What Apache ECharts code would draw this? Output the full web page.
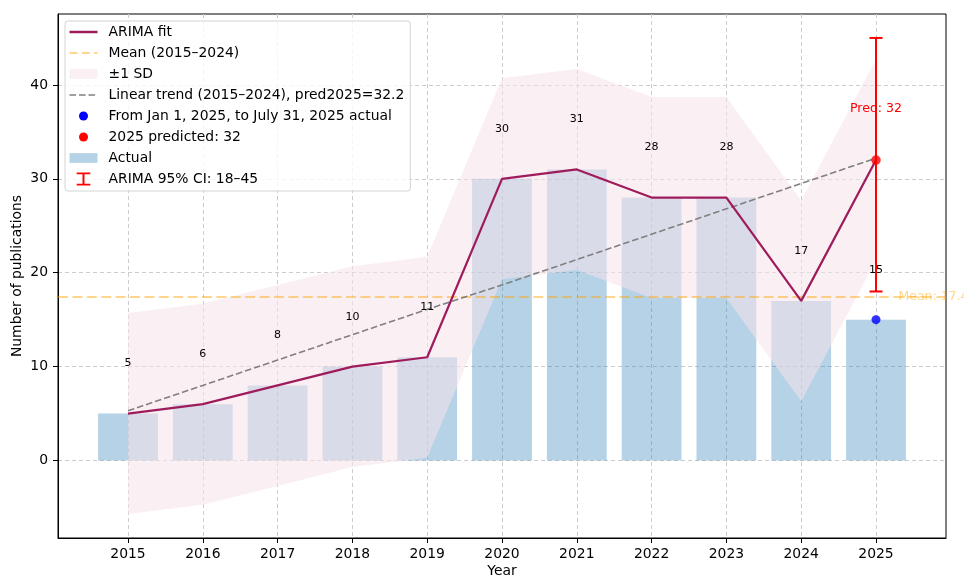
<!DOCTYPE html>
<html>
<head>
<meta charset="utf-8">
<title>Publications per year with ARIMA fit</title>
<script src="https://cdn.jsdelivr.net/npm/echarts@6/dist/echarts.min.js"></script>
<style>
  html, body { margin: 0; padding: 0; background: #ffffff; }
  #chart { width: 964px; height: 577px; }
</style>
</head>
<body>
<div id="chart"></div>
<script>
// ---- data -------------------------------------------------------------
const years = [2015, 2016, 2017, 2018, 2019, 2020, 2021, 2022, 2023, 2024, 2025];
const actual = [5, 6, 8, 10, 11, 30, 31, 28, 28, 17, 15];          // 2025 = Jan 1 – Jul 31
const arimaFit = [5, 6, 8, 10, 11, 30, 31, 28, 28, 17, 32];
const sdUpper = [15.7, 16.7, 18.7, 20.7, 21.7, 40.7, 41.7, 38.7, 38.7, 27.7, 42.7];
const sdLower = [-5.7, -4.7, -2.7, -0.7, 0.3, 19.3, 20.3, 17.3, 17.3, 6.3, 21.3];
const trend = [5.3, 8.0, 10.7, 13.4, 16.1, 18.7, 21.4, 24.1, 26.8, 29.5, 32.2];
const meanValue = 17.4;
const partial2025 = [2025, 15];
const predicted2025 = [2025, 32];
const ci2025 = [2025, 18, 45];
const yTicks = [0, 10, 20, 30, 40];

// ---- styling ----------------------------------------------------------
const FONT = 'DejaVu Sans';
const C_BAR = 'rgba(31,119,180,0.33)';
const C_BAND = 'rgba(246,226,233,0.56)';
const C_MEAN = 'rgba(255,165,0,0.45)';
const C_TREND = '#808080';
const C_FIT = '#9e1b5c';
const C_RED = '#ff0000';
const C_BLUE = '#0000ff';
const labelLift = 5;   // value labels sit this many units above each value
const textNudge = 2.5; // px, aligns text baselines with the marks below

const NAMES = {
  fit: 'ARIMA fit',
  mean: 'Mean (2015–2024)',
  sd: '±1 SD',
  trend: 'Linear trend (2015–2024), pred2025=32.2',
  partial: 'From Jan 1, 2025, to July 31, 2025 actual',
  pred: '2025 predicted: 32',
  actual: 'Actual',
  ci: 'ARIMA 95% CI: 18–45'
};

// legend handles: every path spans a 34x14 box so the text lands in the same column
const BOX = 'M0 0 M34 14 ';
const ICON = {
  solid: 'path://' + BOX + 'M0 5.75 L28 5.75 L28 8.25 L0 8.25 Z',
  meanDash: 'path://' + BOX + 'M0 6 L8 6 L8 8 L0 8 Z M12.3 6 L20.3 6 L20.3 8 L12.3 8 Z M24.6 6 L28 6 L28 8 L24.6 8 Z',
  trendDash: 'path://' + BOX + 'M0 6.25 L6.6 6.25 L6.6 7.75 L0 7.75 Z M9.5 6.25 L16.1 6.25 L16.1 7.75 L9.5 7.75 Z M19 6.25 L25.6 6.25 L25.6 7.75 L19 7.75 Z',
  rect: 'path://' + BOX + 'M0 2.15 L28 2.15 L28 11.85 L0 11.85 Z',
  dot: 'path://' + BOX + 'M9.5 7 A4.5 4.5 0 1 1 18.5 7 A4.5 4.5 0 1 1 9.5 7 Z',
  errbar: 'path://' + BOX + 'M13 0.5 L15 0.5 L15 13.5 L13 13.5 Z M7.2 0.5 L20.8 0.5 L20.8 2.3 L7.2 2.3 Z M7.2 11.7 L20.8 11.7 L20.8 13.5 L7.2 13.5 Z'
};
function legendItem(name, icon, color) {
  return { name: name, icon: icon, itemStyle: { color: color, borderWidth: 0, opacity: 1 } };
}

const pairs = (vals) => years.map((y, i) => [y, vals[i]]);

const chart = echarts.init(document.getElementById('chart'), null, { renderer: 'canvas' });

const option = {
  animation: false,
  backgroundColor: '#ffffff',
  textStyle: { fontFamily: FONT },
  grid: {
    left: 58, right: 18, top: 14, bottom: 39,
    show: true, borderColor: '#000000', borderWidth: 1,
    containLabel: false, outerBoundsMode: 'none'
  },
  legend: {
    orient: 'vertical',
    left: 65, top: 21,
    padding: [4, 6, 5, 4.5],
    itemWidth: 34, itemHeight: 14, itemGap: 7,
    backgroundColor: 'rgba(255,255,255,0.8)',
    borderColor: '#d4d4d4', borderWidth: 1, borderRadius: 3,
    selectedMode: false,
    textStyle: { fontFamily: FONT, fontSize: 13.9, lineHeight: 14, color: '#000000' },
    data: [
      legendItem(NAMES.fit, ICON.solid, C_FIT),
      legendItem(NAMES.mean, ICON.meanDash, C_MEAN),
      legendItem(NAMES.sd, ICON.rect, C_BAND),
      legendItem(NAMES.trend, ICON.trendDash, C_TREND),
      legendItem(NAMES.partial, ICON.dot, C_BLUE),
      legendItem(NAMES.pred, ICON.dot, C_RED),
      legendItem(NAMES.actual, ICON.rect, C_BAR),
      legendItem(NAMES.ci, ICON.errbar, C_RED)
    ]
  },
  xAxis: {
    type: 'value',
    min: 2014.064, max: 2025.936,
    name: 'Year', nameLocation: 'middle', nameGap: 26, nameMoveOverlap: false,
    nameTextStyle: { fontFamily: FONT, fontSize: 13.9, color: '#000000' },
    axisLine: { show: true, onZero: false, lineStyle: { color: '#000000', width: 1 } },
    axisTick: { show: true, customValues: years, length: 5, lineStyle: { color: '#000000', width: 1 } },
    axisLabel: { customValues: years, formatter: (v) => String(v), margin: 9,
                 fontFamily: FONT, fontSize: 13.9, color: '#000000' },
    splitLine: { show: true, lineStyle: { color: '#cccccc', width: 1, type: [4, 3] } }
  },
  yAxis: {
    type: 'value',
    min: -8.25, max: 47.55,
    name: 'Number of publications', nameLocation: 'middle', nameGap: 34, nameMoveOverlap: false,
    nameTextStyle: { fontFamily: FONT, fontSize: 13.9, color: '#000000' },
    axisLine: { show: true, onZero: false, lineStyle: { color: '#000000', width: 1 } },
    axisTick: { show: true, customValues: yTicks, length: 5, lineStyle: { color: '#000000', width: 1 } },
    axisLabel: { customValues: yTicks, formatter: (v) => String(v), margin: 10,
                 fontFamily: FONT, fontSize: 13.9, color: '#000000' },
    splitLine: { show: true, lineStyle: { color: '#cccccc', width: 1, type: [4, 3] } }
  },
  series: [
    {
      name: NAMES.actual,
      type: 'bar',
      data: pairs(actual),
      barWidth: 59.8,
      itemStyle: { color: C_BAR },
      z: 2
    },
    {
      name: NAMES.sd,
      type: 'custom',
      data: [[years[0], sdUpper[0]]],
      itemStyle: { color: C_BAND },
      renderItem: function (params, api) {
        const upper = years.map((y, i) => api.coord([y, sdUpper[i]]));
        const lower = years.map((y, i) => api.coord([y, sdLower[i]])).reverse();
        return { type: 'polygon', shape: { points: upper.concat(lower) }, style: { fill: C_BAND } };
      },
      z: 3
    },
    {
      name: NAMES.mean,
      type: 'line',
      data: [],
      itemStyle: { color: C_MEAN },
      markLine: {
        silent: true,
        symbol: 'none',
        label: { show: false },
        lineStyle: { color: C_MEAN, width: 2, type: [10, 4.4] },
        data: [{ yAxis: meanValue }]
      },
      z: 4
    },
    {
      name: NAMES.trend,
      type: 'line',
      data: pairs(trend),
      showSymbol: false,
      symbol: 'none',
      itemStyle: { color: C_TREND },
      lineStyle: { color: C_TREND, width: 1.6, type: [6.6, 2.9] },
      z: 5
    },
    {
      name: NAMES.fit,
      type: 'line',
      data: pairs(arimaFit),
      showSymbol: false,
      symbol: 'none',
      itemStyle: { color: C_FIT },
      lineStyle: { color: C_FIT, width: 2.2 },
      z: 6
    },
    {
      name: NAMES.ci,
      type: 'custom',
      data: [ci2025],
      encode: { x: 0, y: [1, 2] },
      itemStyle: { color: C_RED },
      renderItem: function (params, api) {
        const x = api.value(0);
        const lo = api.coord([x, api.value(1)]);
        const hi = api.coord([x, api.value(2)]);
        const cap = 6.5;
        const st = { stroke: C_RED, lineWidth: 2 };
        return {
          type: 'group',
          children: [
            { type: 'line', shape: { x1: lo[0], y1: lo[1], x2: hi[0], y2: hi[1] }, style: st },
            { type: 'line', shape: { x1: hi[0] - cap, y1: hi[1], x2: hi[0] + cap, y2: hi[1] }, style: st },
            { type: 'line', shape: { x1: lo[0] - cap, y1: lo[1], x2: lo[0] + cap, y2: lo[1] }, style: st }
          ]
        };
      },
      z: 7
    },
    {
      name: NAMES.partial,
      type: 'scatter',
      data: [partial2025],
      symbol: 'circle',
      symbolSize: 9,
      itemStyle: { color: C_BLUE },
      z: 8
    },
    {
      name: NAMES.pred,
      type: 'scatter',
      data: [predicted2025],
      symbol: 'circle',
      symbolSize: 9.5,
      itemStyle: { color: C_RED },
      z: 8
    },
    {
      // value labels above each year's count
      name: 'value labels',
      type: 'custom',
      data: pairs(actual),
      renderItem: function (params, api) {
        const x = api.value(0);
        const v = api.value(1);
        const p = api.coord([x, v + labelLift]);
        return {
          type: 'text', x: p[0], y: p[1] + textNudge,
          style: { text: String(v), align: 'center', verticalAlign: 'bottom',
                   fontFamily: FONT, fontSize: 11, fill: '#000000' }
        };
      },
      z: 9
    },
    {
      // prediction and mean annotations
      name: 'annotations',
      type: 'custom',
      data: [predicted2025],
      renderItem: function (params, api) {
        const pp = api.coord([predicted2025[0], predicted2025[1] + labelLift]);
        const mp = api.coord([predicted2025[0] + 0.3, meanValue]);
        return {
          type: 'group',
          children: [
            { type: 'text', x: pp[0], y: pp[1] + textNudge,
              style: { text: 'Pred: ' + predicted2025[1], align: 'center', verticalAlign: 'bottom',
                       fontFamily: FONT, fontSize: 12.5, fill: C_RED } },
            { type: 'text', x: mp[0], y: mp[1],
              style: { text: 'Mean: ' + meanValue.toFixed(1), align: 'left', verticalAlign: 'middle',
                       fontFamily: FONT, fontSize: 12.5, fill: C_MEAN } }
          ]
        };
      },
      z: 9
    }
  ]
};

chart.setOption(option);
</script>
</body>
</html>
